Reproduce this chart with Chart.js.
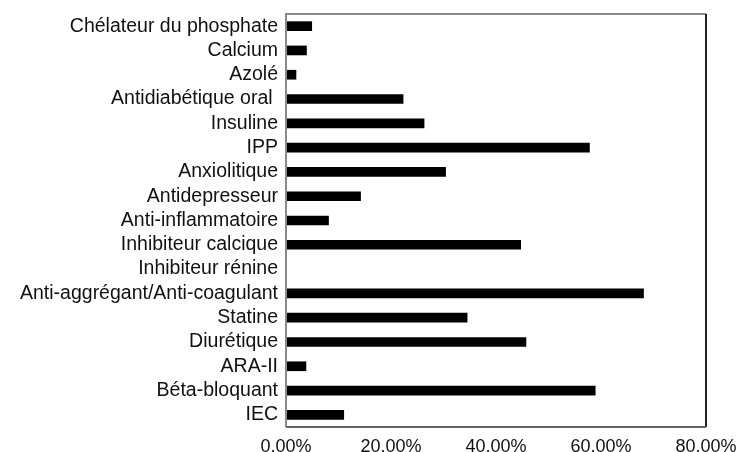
<!DOCTYPE html>
<html>
<head>
<meta charset="utf-8">
<script src="https://cdn.jsdelivr.net/npm/chart.js@4/dist/chart.umd.min.js"></script>
<style>
  html, body { margin: 0; padding: 0; background: #fff; }
  #wrap { width: 739px; height: 452px; }
</style>
</head>
<body>
<div id="wrap"><canvas id="bar_chart" width="739" height="452"></canvas></div>
<script>
// categories, top to bottom
const classes = [
    "Chélateur du phosphate", "Calcium", "Azolé", "Antidiabétique oral ",
    "Insuline", "IPP", "Anxiolitique", "Antidepresseur", "Anti-inflammatoire",
    "Inhibiteur calcique", "Inhibiteur rénine", "Anti-aggrégant/Anti-coagulant",
    "Statine", "Diurétique", "ARA-II", "Béta-bloquant", "IEC"
];
// pourcentages
const pourcentages = [
    4.9, 3.9, 1.9, 22.3, 26.3, 57.8, 30.4, 14.2, 8.1,
    44.7, 0, 68.1, 34.5, 45.7, 3.8, 58.9, 11.0
];
const ticksX = [0, 20, 40, 60, 80];

// cadre autour de la zone du graphique
const cadre = {
    id: 'cadre',
    afterDraw(chart) {
        const { ctx, chartArea: a } = chart;
        ctx.save();
        ctx.lineWidth = 2;
        ctx.strokeStyle = '#8a8a8a';
        ctx.beginPath();
        ctx.moveTo(a.left, a.bottom);
        ctx.lineTo(a.left, a.top);
        ctx.lineTo(a.right, a.top);
        ctx.stroke();
        ctx.strokeStyle = '#222';
        ctx.beginPath();
        ctx.moveTo(a.right, a.top);
        ctx.lineTo(a.right, a.bottom);
        ctx.stroke();
        ctx.strokeStyle = '#666';
        ctx.beginPath();
        ctx.moveTo(a.left, a.bottom);
        ctx.lineTo(a.right, a.bottom);
        ctx.stroke();
        ctx.restore();
    }
};

new Chart(document.getElementById("bar_chart").getContext("2d"), {
    type: 'bar',
    data: {
        labels: classes,
        datasets: [{
            data: pourcentages,
            backgroundColor: '#000',
            barThickness: 9
        }]
    },
    options: {
        indexAxis: 'y',
        responsive: false,
        animation: false,
        layout: { padding: { top: 14, right: 33, left: 0, bottom: 0 } },
        plugins: { legend: { display: false }, tooltip: { enabled: false } },
        scales: {
            x: {
                min: 0,
                max: 80,
                afterBuildTicks: s => { s.ticks = ticksX.map(v => ({ value: v })); },
                afterFit: s => { s.height = 25; },
                grid: { display: false },
                border: { display: false },
                ticks: {
                    color: '#111',
                    padding: 1,
                    maxRotation: 0,
                    font: { family: 'Liberation Sans', size: 18 },
                    callback: v => v.toFixed(2).replace('.', ',') + '%'
                }
            },
            y: {
                afterFit: s => { s.width = 286; },
                grid: { display: false },
                border: { display: false },
                ticks: {
                    color: '#111',
                    padding: 0,
                    autoSkip: false,
                    font: { family: 'Liberation Sans', size: 19.5 }
                }
            }
        }
    },
    plugins: [cadre]
});
</script>
</body>
</html>
